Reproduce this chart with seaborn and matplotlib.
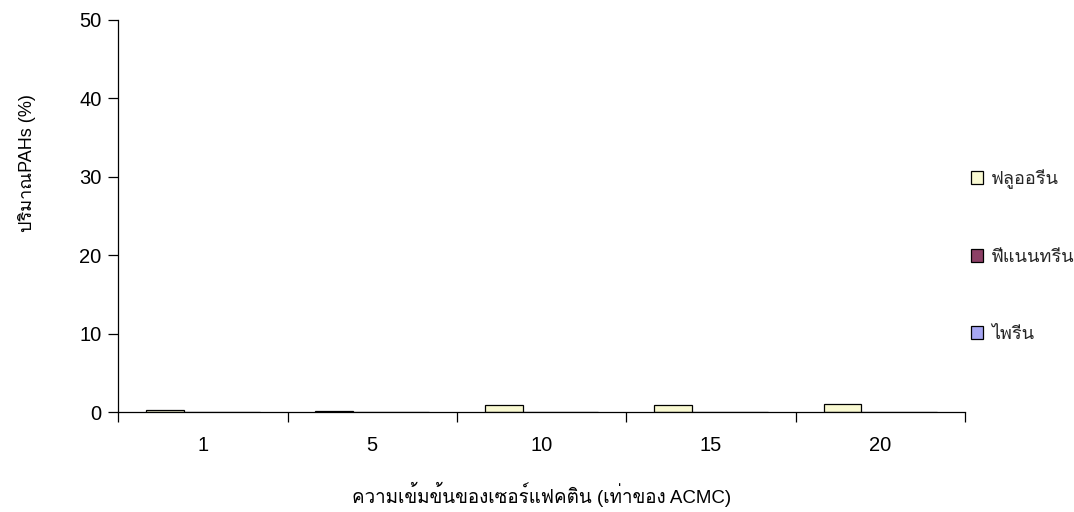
import matplotlib
matplotlib.use("Agg")
import matplotlib.pyplot as plt
from matplotlib import font_manager
from matplotlib.ft2font import FT2Font
from matplotlib.ticker import FixedLocator
import seaborn as sns
import pandas as pd

# Data: PAH content (%) vs surfactant concentration (multiples of ACMC)
categories = ["1", "5", "10", "15", "20"]
series_names = ["ฟลูออรีน", "ฟีแนนทรีน", "ไพรีน"]
fluorene = [0.25, 0.15, 0.85, 0.95, 1.0]
phenanthrene = [0.0, 0.0, 0.0, 0.0, 0.0]
pyrene = [0.0, 0.0, 0.0, 0.0, 0.0]
y_ticks = [0, 10, 20, 30, 40, 50]
colors = ["#FFFFCC", "#993366", "#9999FF"]


def thai_fonts():
    found = []
    for f in font_manager.fontManager.ttflist:
        try:
            cmap = FT2Font(f.fname).get_charmap()
        except Exception:
            continue
        if 0x0E01 in cmap and 0x0E35 in cmap and f.name not in found:
            found.append(f.name)
    return found


sns.set_style("white")
tf = thai_fonts()
plt.rcParams["font.family"] = ["Liberation Sans"] + tf + ["DejaVu Sans"]

rows = []
for name, vals in zip(series_names, [fluorene, phenanthrene, pyrene]):
    for c, v in zip(categories, vals):
        rows.append({"conc": c, "series": name, "value": v})
df = pd.DataFrame(rows)

fig = plt.figure(figsize=(10.74, 5.12), dpi=100)
ax = fig.add_axes([0.11, 0.195, 0.7885, 0.766])

sns.barplot(data=df, x="conc", y="value", hue="series", order=categories,
            hue_order=series_names, palette=dict(zip(series_names, colors)),
            width=0.67, edgecolor="black", linewidth=0.9, ax=ax, errorbar=None)

ax.set_ylim(0, 50)
ax.set_yticks(y_ticks)
ax.set_xlim(-0.5, len(categories) - 0.5)
ax.xaxis.set_minor_locator(FixedLocator([i - 0.5 for i in range(len(categories) + 1)]))
ax.tick_params(axis="x", which="major", length=0, labelsize=14.5, pad=17, labelcolor="black")
ax.tick_params(axis="x", which="minor", length=7, width=0.9, color="black", direction="out", bottom=True)
ax.tick_params(axis="y", length=7, width=0.9, color="black", direction="out", labelsize=14.5,
               left=True, pad=5, labelcolor="black")

for side in ["top", "right"]:
    ax.spines[side].set_visible(False)
for side in ["left", "bottom"]:
    ax.spines[side].set_color("black")
    ax.spines[side].set_linewidth(0.9)

ax.set_xlabel("ความเข้มข้นของเซอร์แฟคติน (เท่าของ ACMC)", fontsize=13.5, color="black")
ax.xaxis.set_label_coords(0.5, -0.178)
ax.set_ylabel("ปริมาณPAHs (%)", fontsize=13, color="black")
ax.yaxis.set_label_coords(-0.097, 0.635)

ax.legend(loc="upper left", bbox_to_anchor=(0.998, 0.638), frameon=False,
          fontsize=13, handlelength=0.7, handleheight=0.7, handletextpad=0.45,
          labelspacing=3.33, borderaxespad=0.0)

fig.savefig("out.png", dpi=100)
